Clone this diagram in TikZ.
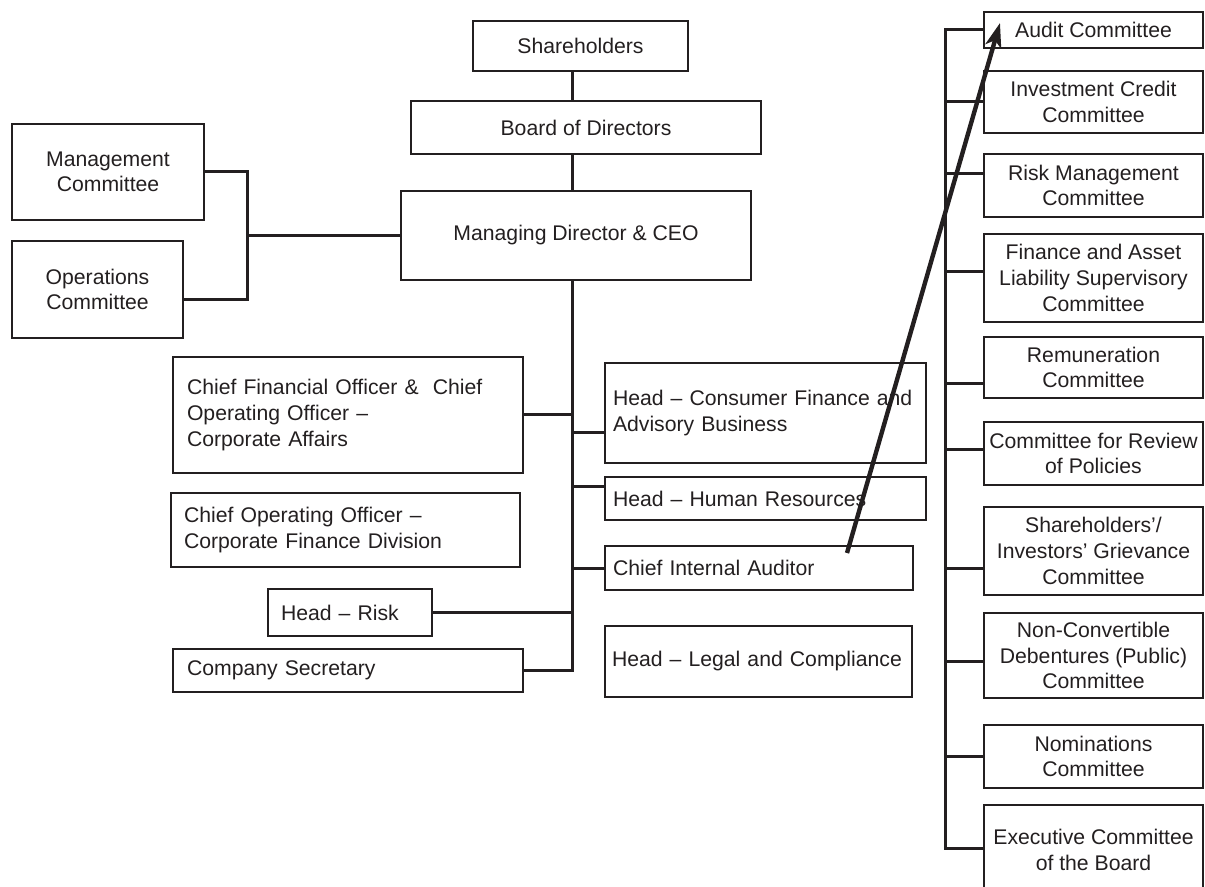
\documentclass[tikz,border=0pt]{standalone}
\usepackage{fontspec}
\setmainfont{Liberation Sans}
\usetikzlibrary{arrows.meta}
\definecolor{ink}{RGB}{35,31,32}
\tikzset{
	box/.style={draw=ink, line width=1pt, text=ink, inner ysep=1pt, font=\fontsize{10.6}{12.8}\selectfont},
	cbox/.style={box, align=center, inner xsep=2pt},
	lbox/.style={box, align=left},
	com/.style={cbox, minimum width=109.5pt},
	link/.style={draw=ink, line width=1.5pt},
	arr/.style={draw=ink, line width=2.2pt, -{Stealth[length=12pt, width=8pt, inset=3pt]}}
}
\begin{document}
\begin{tikzpicture}[x=0.5pt, y=-0.5pt]
	\useasboundingbox (0,0) rectangle (1205,887);
	\node[cbox, minimum width=107.5pt, minimum height=25pt] (sh) at (580.5,46) {Shareholders};
	\node[cbox, minimum width=175pt, minimum height=26.5pt] (board) at (586,127.5) {Board of Directors};
	\node[cbox, minimum width=175pt, minimum height=44.5pt] (md) at (576,235.5) {Managing Director \& CEO};
	\node[cbox, minimum width=96pt, minimum height=48pt] (mgmt) at (108,172) {Management\\Committee};
	\node[cbox, minimum width=85.5pt, minimum height=48.5pt] (ops) at (97.5,289.5) {Operations\\Committee};

	\node[lbox, inner xsep=7pt, text width=161pt, minimum height=58pt] (cfo) at (348,415) {Chief Financial Officer \& \ Chief\\Operating Officer –\\Corporate Affairs};
	\node[lbox, inner xsep=6.5pt, text width=161.5pt, minimum height=37pt] (coo) at (345.5,530) {Chief Operating Officer –\\Corporate Finance Division};
	\node[lbox, inner xsep=6.5pt, text width=69pt, minimum height=23.5pt] (risk) at (350,612.5) {Head – Risk};
	\node[lbox, inner xsep=7pt, text width=161pt, minimum height=21.5pt] (cosec) at (348,670.5) {Company Secretary};

	\node[lbox, inner xsep=4pt, text width=152.5pt, minimum height=50pt] (cons) at (765.5,413) {Head – Consumer Finance and\\Advisory Business};
	\node[lbox, inner xsep=4pt, text width=152.5pt, minimum height=21.5pt] (hr) at (765.5,498.5) {Head – Human Resources};
	\node[lbox, inner xsep=4pt, text width=146pt, minimum height=22pt] (cia) at (759,568) {Chief Internal Auditor};
	\node[lbox, inner xsep=3.5pt, text width=146.5pt, minimum height=35.5pt] (legal) at (758.5,661.5) {Head – Legal and Compliance};

	\node[com, minimum height=18pt] (audit) at (1093.5,30) {Audit Committee};
	\node[com, minimum height=31pt] (invest) at (1093.5,102) {Investment Credit\\Committee};
	\node[com, minimum height=31.5pt] (riskm) at (1093.5,185.5) {Risk Management\\Committee};
	\node[com, minimum height=44pt] (fin) at (1093.5,278) {Finance and Asset\\Liability Supervisory\\Committee};
	\node[com, minimum height=30.5pt] (remun) at (1093.5,367.5) {Remuneration\\Committee};
	\node[com, minimum height=31.5pt] (review) at (1093.5,453.5) {Committee for Review\\of Policies};
	\node[com, minimum height=44pt] (shinv) at (1093.5,551) {Shareholders’/\\Investors’ Grievance\\Committee};
	\node[com, minimum height=42.5pt] (ncd) at (1093.5,655.5) {Non-Convertible\\Debentures (Public)\\Committee};
	\node[com, minimum height=31.5pt] (nom) at (1093.5,756.5) {Nominations\\Committee};
	\node[com, minimum height=45pt] (exec) at (1093.5,850) {Executive Committee\\of the Board};

	\coordinate (mtr) at (572,0);
	\coordinate (ltr) at (247,0);
	\coordinate (rtr) at (945,0);

	\draw[link] (sh.south -| mtr) -- (board.north -| mtr);
	\draw[link] (board.south -| mtr) -- (md.north -| mtr);
	\draw[link] (md.south -| mtr) -- (cosec.east -| mtr) -- (cosec.east);
	\draw[link] (md.west) -- (md.west -| ltr);
	\draw[link] (mgmt.east) -- (mgmt.east -| ltr) -- ([yshift=-5.25pt]ops.east -| ltr) -- ([yshift=-5.25pt]ops.east);
	\foreach \n in {cfo,risk}
		\draw[link] (\n.east) -- (\n.east -| mtr);
	\foreach \n/\s in {cons/-10,hr/6,cia/0}
		\draw[link] ([yshift=\s pt]\n.west) -- ([yshift=\s pt]\n.west -| mtr);

	\draw[link] (audit.west) -- (audit.west -| rtr) -- ([yshift=1pt]exec.west -| rtr) -- ([yshift=1pt]exec.west);
	\foreach \n/\s in {invest/0,riskm/6,fin/3,remun/-8,review/2,shinv/-8.5,ncd/-3,nom/0}
		\draw[link] ([yshift=\s pt]\n.west) -- ([yshift=\s pt]\n.west -| rtr);

	\coordinate (ciaarr) at ([xshift=-33.5pt, yshift=-4pt]cia.north east);
	\coordinate (auditarr) at ([xshift=8.5pt, yshift=-6pt]audit.north west);
	\draw[arr] (ciaarr) -- (auditarr);
\end{tikzpicture}
\end{document}
